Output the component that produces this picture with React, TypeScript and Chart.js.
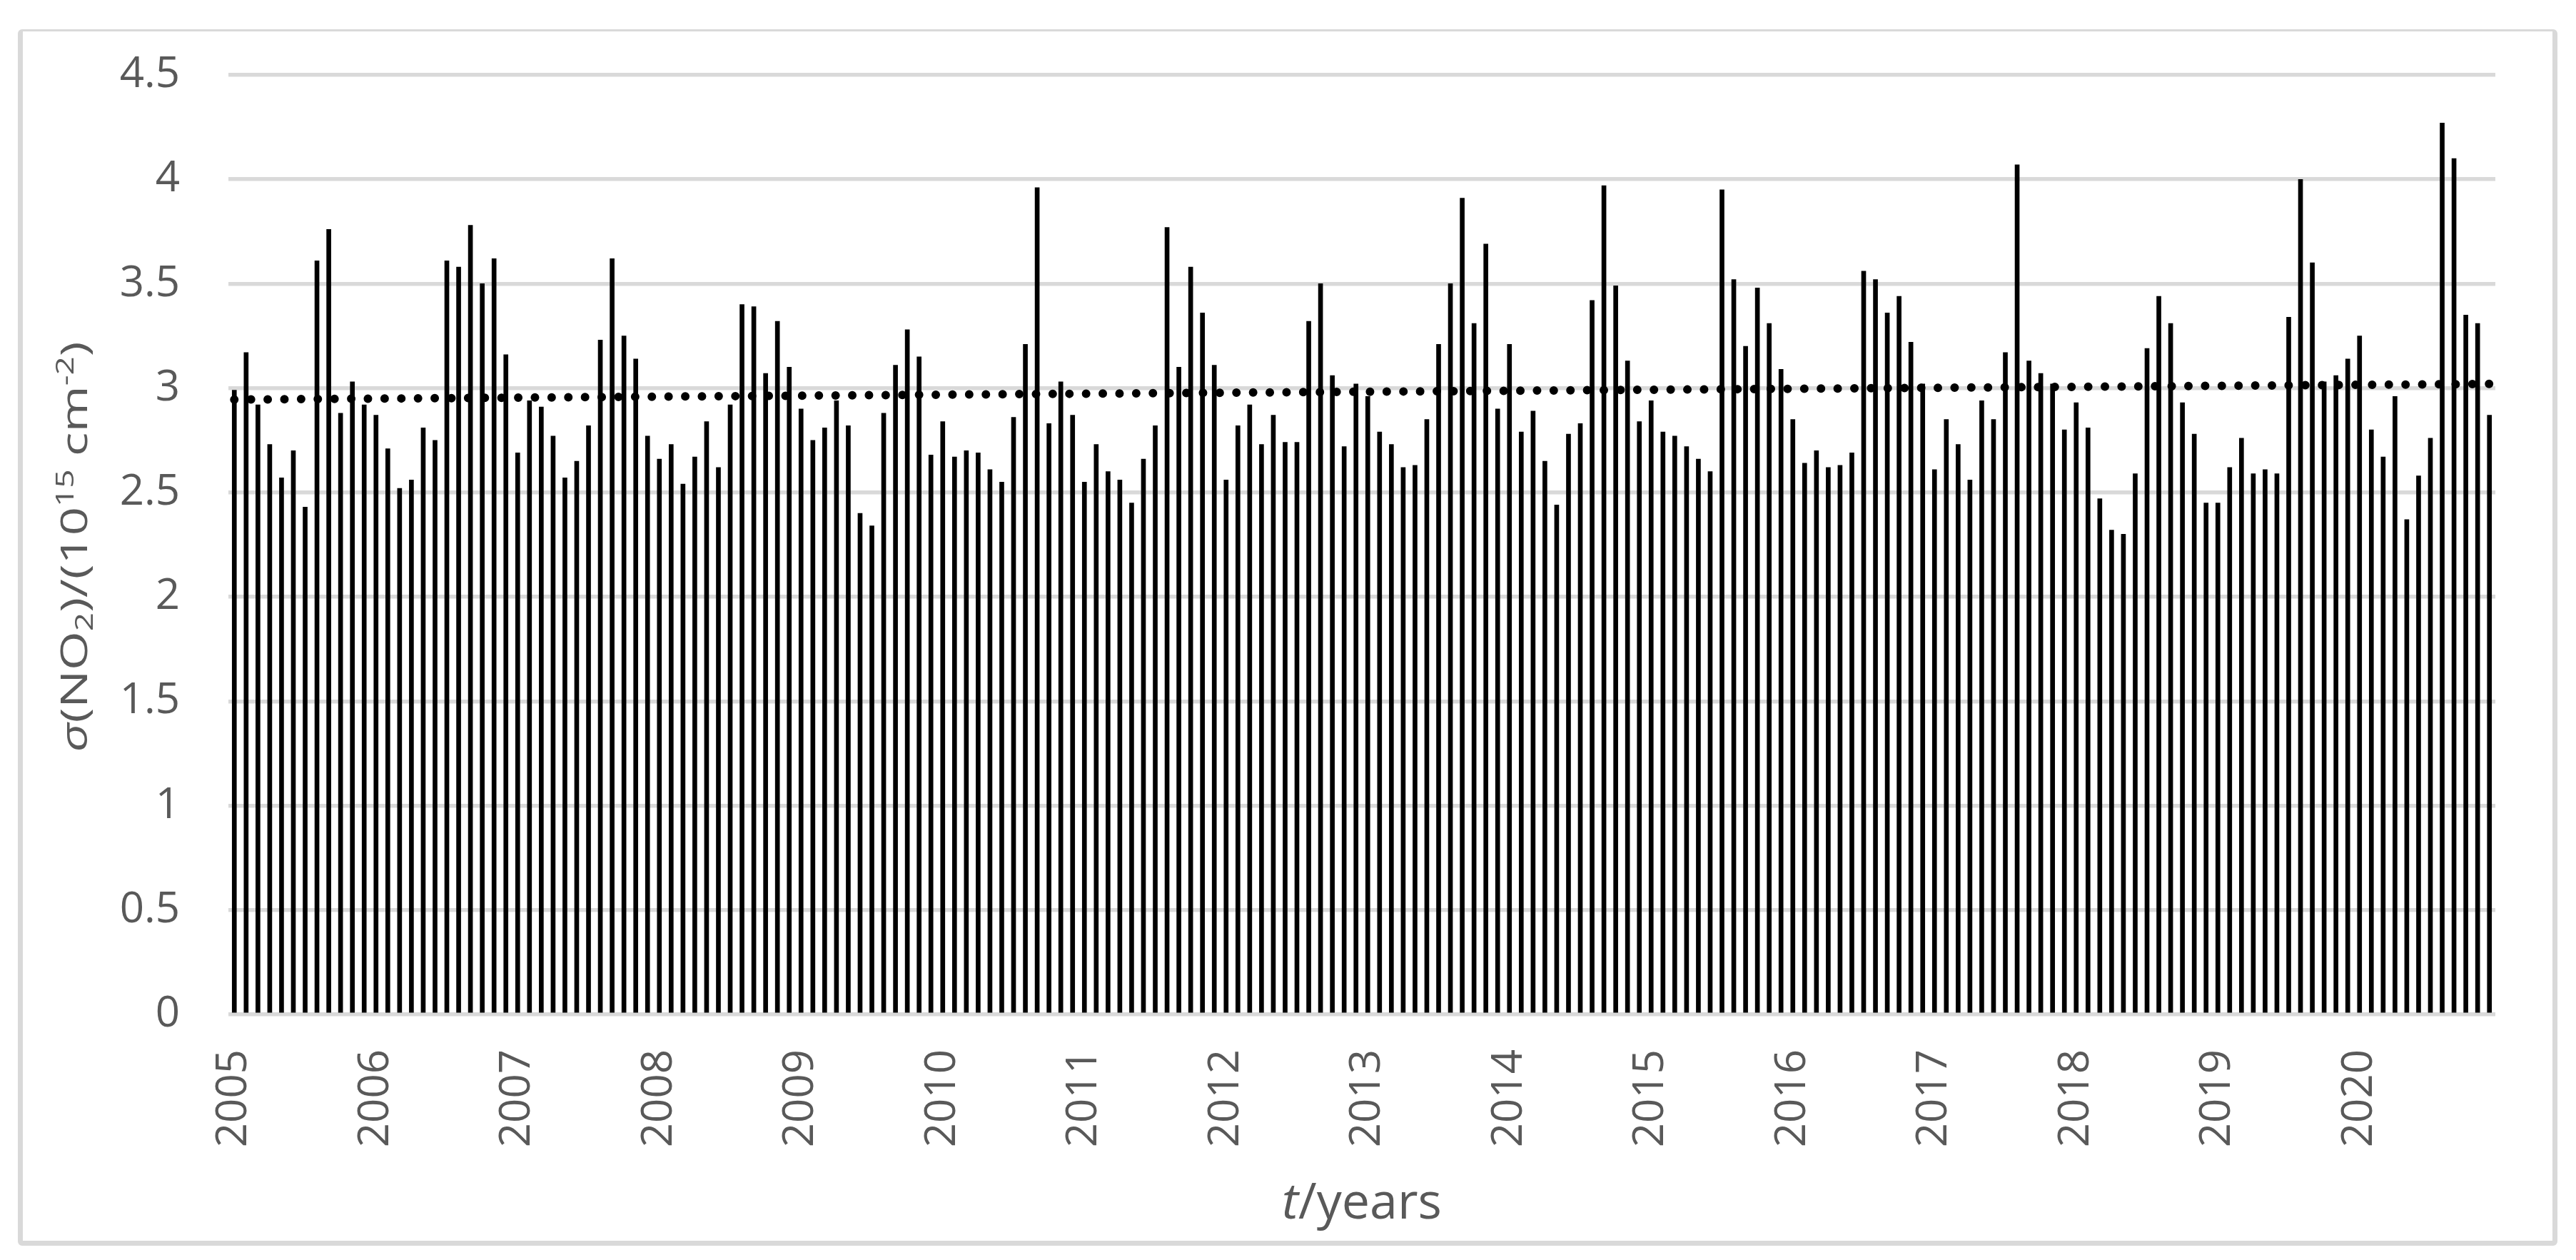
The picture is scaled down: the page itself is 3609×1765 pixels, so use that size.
import React, { useEffect, useRef } from "react";
import { Chart, registerables } from "chart.js";

Chart.register(...registerables);

const years = ["2005","2006","2007","2008","2009","2010","2011","2012","2013","2014","2015","2016","2017","2018","2019","2020"];
const months = ["01","02","03","04","05","06","07","08","09","10","11","12"];
const categories = years.flatMap((y) => months.map((m) => `${y}-${m}`));

// monthly sigma(NO2) values, 2005-01 .. 2020-12
const sigmaValues = [
  2.99, 3.17, 2.92, 2.73, 2.57, 2.70, 2.43, 3.61, 3.76, 2.88, 3.03, 2.92,
  2.87, 2.71, 2.52, 2.56, 2.81, 2.75, 3.61, 3.58, 3.78, 3.50, 3.62, 3.16,
  2.69, 2.94, 2.91, 2.77, 2.57, 2.65, 2.82, 3.23, 3.62, 3.25, 3.14, 2.77,
  2.66, 2.73, 2.54, 2.67, 2.84, 2.62, 2.92, 3.40, 3.39, 3.07, 3.32, 3.10,
  2.90, 2.75, 2.81, 2.94, 2.82, 2.40, 2.34, 2.88, 3.11, 3.28, 3.15, 2.68,
  2.84, 2.67, 2.70, 2.69, 2.61, 2.55, 2.86, 3.21, 3.96, 2.83, 3.03, 2.87,
  2.55, 2.73, 2.60, 2.56, 2.45, 2.66, 2.82, 3.77, 3.10, 3.58, 3.36, 3.11,
  2.56, 2.82, 2.92, 2.73, 2.87, 2.74, 2.74, 3.32, 3.50, 3.06, 2.72, 3.02,
  2.96, 2.79, 2.73, 2.62, 2.63, 2.85, 3.21, 3.50, 3.91, 3.31, 3.69, 2.90,
  3.21, 2.79, 2.89, 2.65, 2.44, 2.78, 2.83, 3.42, 3.97, 3.49, 3.13, 2.84,
  2.94, 2.79, 2.77, 2.72, 2.66, 2.60, 3.95, 3.52, 3.20, 3.48, 3.31, 3.09,
  2.85, 2.64, 2.70, 2.62, 2.63, 2.69, 3.56, 3.52, 3.36, 3.44, 3.22, 3.02,
  2.61, 2.85, 2.73, 2.56, 2.94, 2.85, 3.17, 4.07, 3.13, 3.07, 3.02, 2.80,
  2.93, 2.81, 2.47, 2.32, 2.30, 2.59, 3.19, 3.44, 3.31, 2.93, 2.78, 2.45,
  2.45, 2.62, 2.76, 2.59, 2.61, 2.59, 3.34, 4.00, 3.60, 3.03, 3.06, 3.14,
  3.25, 2.80, 2.67, 2.96, 2.37, 2.58, 2.76, 4.27, 4.10, 3.35, 3.31, 2.87,
];

// linear trend end values (first and last month)
const trendValues = [2.945, 3.02];

const yTicks = [0, 0.5, 1, 1.5, 2, 2.5, 3, 3.5, 4, 4.5];

const FONT = "'Open Sans', 'Liberation Sans', sans-serif";
const TEXT = "#595959";

const titlesPlugin = {
  id: "titles",
  afterDraw(chart: any) {
    const ctx = chart.ctx as CanvasRenderingContext2D;
    const area = chart.chartArea;
    // x title
    ctx.save();
    ctx.fillStyle = TEXT;
    ctx.textBaseline = "alphabetic";
    ctx.textAlign = "left";
    const xs = 70;
    const segX = [
      { t: "t", f: `italic ${xs}px ${FONT}` },
      { t: "/years", f: `${xs}px ${FONT}` },
    ];
    let wx = 0;
    segX.forEach((s) => { ctx.font = s.f; wx += ctx.measureText(s.t).width; });
    let cx = (area.left + area.right) / 2 - wx / 2;
    segX.forEach((s) => { ctx.font = s.f; ctx.fillText(s.t, cx, 1707); cx += ctx.measureText(s.t).width; });
    ctx.restore();

    // y title (rotated)
    const fs = 52;
    const small = Math.round(fs * 0.65);
    const segs = [
      { t: "σ", f: `italic ${fs}px ${FONT}`, dy: 0 },
      { t: "(NO", f: `${fs}px ${FONT}`, dy: 0 },
      { t: "2", f: `${small}px ${FONT}`, dy: fs * 0.16 },
      { t: ")/(10", f: `${fs}px ${FONT}`, dy: 0 },
      { t: "15", f: `${small}px ${FONT}`, dy: -fs * 0.36 },
      { t: " cm", f: `${fs}px ${FONT}`, dy: 0 },
      { t: "-2", f: `${small}px ${FONT}`, dy: -fs * 0.36 },
      { t: ")", f: `${fs}px ${FONT}`, dy: 0 },
    ];
    ctx.save();
    ctx.fillStyle = TEXT;
    ctx.textBaseline = "alphabetic";
    ctx.textAlign = "left";
    let w = 0;
    segs.forEach((s) => { ctx.font = s.f; w += ctx.measureText(s.t).width; });
    const target = 575;
    const sx = target / w;
    ctx.translate(122, (area.top + area.bottom) / 2 + 3);
    ctx.rotate(-Math.PI / 2);
    ctx.scale(sx, 1);
    let px = -w / 2;
    segs.forEach((s) => {
      ctx.font = s.f;
      ctx.fillText(s.t, px, s.dy);
      px += ctx.measureText(s.t).width;
    });
    ctx.restore();
  },
};

export default function App() {
  const ref = useRef<HTMLCanvasElement | null>(null);

  useEffect(() => {
    if (!ref.current) return;
    const chart = new Chart(ref.current, {
      type: "bar",
      data: {
        labels: categories,
        datasets: [
          {
            type: "line",
            data: [
              { x: categories[0], y: trendValues[0] },
              { x: categories[categories.length - 1], y: trendValues[1] },
            ] as any,
            borderColor: "#000000",
            borderWidth: 12,
            borderDash: [0, 23.4],
            borderCapStyle: "round",
            pointRadius: 0,
            fill: false,
            order: 0,
          } as any,
          {
            type: "bar",
            data: sigmaValues,
            backgroundColor: "#000000",
            borderWidth: 0,
            barThickness: 6,
            order: 1,
          } as any,
        ],
      },
      options: {
        animation: false,
        responsive: false,
        devicePixelRatio: 1,
        layout: { padding: { left: 0, top: 105, right: 110, bottom: 0 } },
        plugins: {
          legend: { display: false },
          tooltip: { enabled: false },
        },
        scales: {
          x: {
            type: "category",
            offset: true,
            grid: { display: false, drawTicks: false },
            border: { display: false },
            ticks: {
              autoSkip: false,
              maxRotation: 90,
              minRotation: 90,
              padding: 49,
              color: TEXT,
              font: { family: FONT, size: 60 },
              callback: (_v: any, i: number) => (i % 12 === 0 ? categories[i].slice(0, 4) : ""),
            },
            afterFit: (scale: any) => { scale.height = 344; },
          },
          y: {
            min: 0,
            max: 4.5,
            afterBuildTicks: (scale: any) => { scale.ticks = yTicks.map((v) => ({ value: v })); },
            grid: { color: "#d9d9d9", lineWidth: 5.5, drawTicks: false },
            border: { display: false },
            ticks: {
              padding: 68,
              color: TEXT,
              font: { family: FONT, size: 60 },
              callback: (v: any) => String(v),
            },
            afterFit: (scale: any) => { scale.width = 320; },
          },
        },
      },
      plugins: [titlesPlugin],
    });
    return () => chart.destroy();
  }, []);

  return (
    <div style={{ position: "fixed", left: 0, top: 0, width: 3609, height: 1765, background: "#ffffff" }}>
      <canvas ref={ref} width={3609} height={1765} style={{ position: "absolute", left: 0, top: 0, width: 3609, height: 1765 }} />
      <div
        style={{
          position: "absolute",
          left: 25,
          top: 41,
          width: 3558,
          height: 1704,
          boxSizing: "border-box",
          borderStyle: "solid",
          borderColor: "#d9d9d9",
          borderWidth: "3px 7px 7px 7px",
          borderRadius: 6,
          pointerEvents: "none",
        }}
      />
    </div>
  );
}
